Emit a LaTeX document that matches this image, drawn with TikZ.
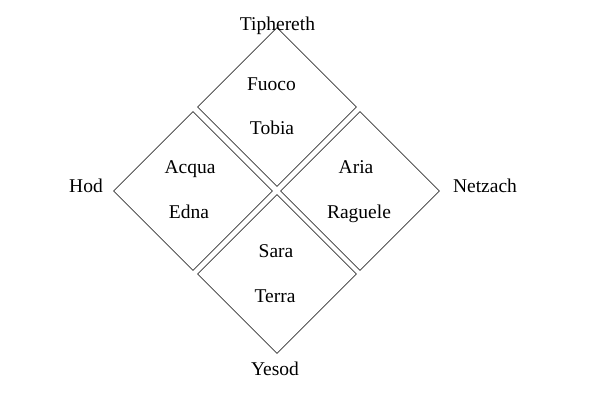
\documentclass[tikz,border=0pt]{standalone}
\usepackage{fontspec}
\setmainfont{Liberation Serif}
\usetikzlibrary{shapes.geometric}
\begin{document}
\begin{tikzpicture}[x=1pt,y=-1pt,
  quad/.style={draw=black!80,line width=0.7pt,shape=diamond,aspect=1,inner sep=0pt,minimum size=159pt},
  lab/.style={anchor=base,inner sep=0pt,font=\fontsize{19.5}{22}\selectfont}]
\useasboundingbox (0,0) rectangle (608,404);
\node[quad] (top) at (277,107) {};
\node[quad] (left) at (193,191) {};
\node[quad] (right) at (360,191) {};
\node[quad] (bottom) at (277,274) {};
\node[lab] (tiph) at (277.5,31) {Tiphereth};
\node[lab] (fuoco) at (271.5,90) {Fuoco};
\node[lab] (tobia) at (272,134) {Tobia};
\node[lab] (hod) at (86,192) {Hod};
\node[lab] (acqua) at (190,173) {Acqua};
\node[lab] (edna) at (189,218) {Edna};
\node[lab] (aria) at (356,173) {Aria};
\node[lab] (raguele) at (359,218) {Raguele};
\node[lab] (netzach) at (485,192) {Netzach};
\node[lab] (sara) at (276,257) {Sara};
\node[lab] (terra) at (275,302) {Terra};
\node[lab] (yesod) at (275,375) {Yesod};
\end{tikzpicture}
\end{document}
